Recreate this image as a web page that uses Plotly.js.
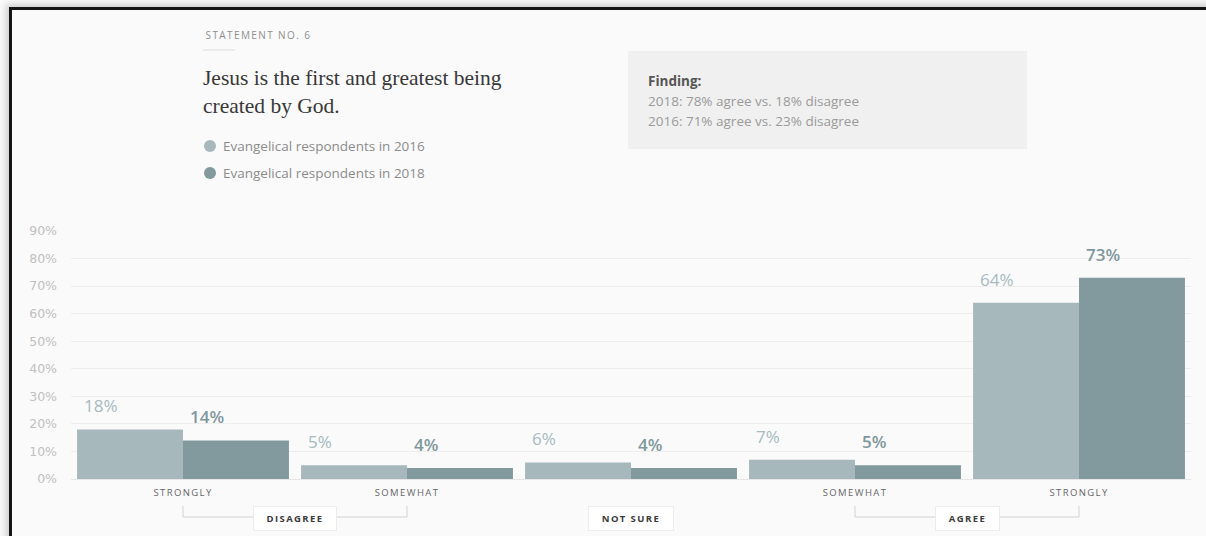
<!DOCTYPE html>
<html>
<head>
<meta charset="utf-8">
<script src="https://cdn.plot.ly/plotly-3.0.1.min.js"></script>
<style>
  html, body { margin: 0; padding: 0; background: #f6f6f6; }
  #wrap { position: relative; width: 1206px; height: 536px; overflow: hidden; }
  #chart { position: absolute; left: 0; top: 0; width: 1206px; height: 536px; }
  #frame { position: absolute; left: 9px; top: 7px; width: 1300px; height: 700px;
           border-left: 3px solid #151515; border-top: 3px solid #151515;
           box-shadow: -3px -3px 7px rgba(0,0,0,0.18); pointer-events: none; }
  .xtick text { letter-spacing: 1.4px; }
</style>
</head>
<body>
<div id="wrap">
  <div id="chart"></div>
  <div id="frame"></div>
</div>
<script>
// ---------------- data ----------------
const categories = ['STRONGLY', 'SOMEWHAT', '', 'SOMEWHAT', 'STRONGLY'];
const groupLabels = ['DISAGREE', 'NOT SURE', 'AGREE'];
const seriesNames = ['Evangelical respondents in 2016', 'Evangelical respondents in 2018'];
const values2016 = [18, 5, 6, 7, 64];
const values2018 = [14, 4, 4, 5, 73];
const yTicks = [0, 10, 20, 30, 40, 50, 60, 70, 80, 90];
const statementLabel = 'STATEMENT NO. 6';
const titleLines = ['Jesus is the first and greatest being', 'created by God.'];
const findingHead = 'Finding:';
const findingLines = ['2018: 78% agree vs. 18% disagree', '2016: 71% agree vs. 23% disagree'];

// ---------------- layout helpers ----------------
const W = 1206, H = 536;
const M = { l: 71, r: 15, t: 231, b: 57 };
const PW = W - M.l - M.r, PH = H - M.t - M.b;
const px = x => (x - M.l) / PW;
const py = y => (H - M.b - y) / PH;
const bargap = 0.054;
const xs = categories.map((_, i) => i);
const LS = 1.4; // letter spacing for small caps labels

const c2016 = '#a7b8bd', c2018 = '#82999e';
const l2016 = '#a6babf', l2018 = '#7f979c';
const SANS = '"Open Sans", "DejaVu Sans", sans-serif';
const SERIF = '"Liberation Serif", "DejaVu Serif", serif';

const traces = [
  { type: 'bar', x: xs, y: values2016, name: seriesNames[0], marker: { color: c2016 },
    hoverinfo: 'none', showlegend: false },
  { type: 'bar', x: xs, y: values2018, name: seriesNames[1], marker: { color: c2018 },
    hoverinfo: 'none', showlegend: false }
];

const annotations = [];
const shapes = [];
const spaced = []; // indices of annotations with letter spacing

// value labels
const half = (1 - bargap) / 2;
values2016.forEach((v, i) => annotations.push({
  x: i - half, y: v, xref: 'x', yref: 'y', text: v + '%', showarrow: false,
  xanchor: 'left', yanchor: 'bottom', xshift: 5, yshift: 10,
  font: { family: SANS, size: 17, color: l2016 }
}));
values2018.forEach((v, i) => annotations.push({
  x: i, y: v, xref: 'x', yref: 'y', text: v + '%', showarrow: false,
  xanchor: 'left', yanchor: 'bottom', xshift: 5, yshift: 10,
  font: { family: SANS, size: 17, color: l2018, weight: 600 }
}));

// statement header (shift compensates letter spacing not measured by plotly)
spaced.push(annotations.length);
annotations.push({ x: px(203), y: py(35), xref: 'paper', yref: 'paper', text: statementLabel,
  showarrow: false, xanchor: 'left', yanchor: 'middle', xshift: statementLabel.length * LS / 2,
  font: { family: SANS, size: 10, color: '#8e8e8e' } });
shapes.push({ type: 'line', xref: 'paper', yref: 'paper', x0: px(203), x1: px(235),
  y0: py(50), y1: py(50), line: { color: '#dcdcdc', width: 1 } });

// title
titleLines.forEach((t, k) => annotations.push({
  x: px(201), y: py(78 + 28 * k), xref: 'paper', yref: 'paper', text: t, showarrow: false,
  xanchor: 'left', yanchor: 'middle', font: { family: SERIF, size: 21.5, color: '#383838' }
}));

// legend
[c2016, c2018].forEach((c, k) => {
  const cy = 146 + 27 * k;
  shapes.push({ type: 'circle', xref: 'paper', yref: 'paper', x0: px(204), x1: px(216),
    y0: py(cy + 6), y1: py(cy - 6), fillcolor: c, line: { width: 0 } });
  annotations.push({ x: px(221), y: py(cy), xref: 'paper', yref: 'paper', text: seriesNames[k],
    showarrow: false, xanchor: 'left', yanchor: 'middle',
    font: { family: SANS, size: 13.5, color: '#8c8c8c' } });
});

// finding box
shapes.push({ type: 'rect', xref: 'paper', yref: 'paper', x0: px(628), x1: px(1027),
  y0: py(149), y1: py(51), fillcolor: '#f0f0f0', line: { width: 0 }, layer: 'below' });
annotations.push({ x: px(646), y: py(81), xref: 'paper', yref: 'paper', text: '<b>' + findingHead + '</b>',
  showarrow: false, xanchor: 'left', yanchor: 'middle', font: { family: SANS, size: 13.5, color: '#555' } });
findingLines.forEach((t, k) => annotations.push({
  x: px(646), y: py(101 + 19.5 * k), xref: 'paper', yref: 'paper', text: t, showarrow: false,
  xanchor: 'left', yanchor: 'middle', font: { family: SANS, size: 13.5, color: '#9a9a9a' }
}));

// brackets and group labels
const bracketColor = '#d2d2d2';
[[0, 1], [3, 4]].forEach(([a, b]) => {
  shapes.push({ type: 'line', xref: 'x', yref: 'paper', x0: a, x1: a, y0: py(506), y1: py(517), line: { color: bracketColor, width: 1 } });
  shapes.push({ type: 'line', xref: 'x', yref: 'paper', x0: b, x1: b, y0: py(506), y1: py(517), line: { color: bracketColor, width: 1 } });
  shapes.push({ type: 'line', xref: 'x', yref: 'paper', x0: a, x1: b, y0: py(517), y1: py(517), line: { color: bracketColor, width: 1 } });
});
const groupPos = [0.5, 2, 3.5];
const groupWidths = [70, 72, 51];
groupLabels.forEach((g, k) => {
  spaced.push(annotations.length);
  annotations.push({ x: groupPos[k], y: py(518.5), xref: 'x', yref: 'paper', text: '<b>' + g + '</b>',
    showarrow: false, xanchor: 'center', yanchor: 'middle', bgcolor: '#ffffff',
    bordercolor: '#ececec', borderwidth: 1, borderpad: 6, width: groupWidths[k], height: 11,
    font: { family: SANS, size: 9.5, color: '#3a3a3a' } });
});

// letter spacing css for chosen annotations
const css = spaced.map(i => `g.annotation[data-index="${i}"] text { letter-spacing: ${LS}px; }`).join('\n');
const st = document.createElement('style'); st.textContent = css; document.head.appendChild(st);

const layout = {
  width: W, height: H, margin: M,
  paper_bgcolor: '#fafafa', plot_bgcolor: '#fafafa',
  barmode: 'group', bargap: bargap, bargroupgap: 0,
  font: { family: SANS },
  xaxis: { range: [-0.5, 4.5], tickvals: xs, ticktext: categories, showgrid: false,
    zeroline: false, showline: false, ticks: '', ticklabelstandoff: 6,
    tickfont: { family: SANS, size: 9.5, color: '#666' }, fixedrange: true },
  yaxis: { range: [0, 90], tickvals: yTicks, ticktext: yTicks.map(v => v + '%'),
    showgrid: true, gridcolor: '#ededed', gridwidth: 1, zeroline: true, zerolinecolor: '#e6e6e6',
    showline: false, ticks: '', ticklabelstandoff: 13,
    tickfont: { family: '"DejaVu Sans", sans-serif', size: 12.5, color: '#c0c0c0' }, fixedrange: true },
  annotations: annotations, shapes: shapes, showlegend: false
};

Plotly.newPlot('chart', traces, layout, { displayModeBar: false, staticPlot: true });
</script>
</body>
</html>
